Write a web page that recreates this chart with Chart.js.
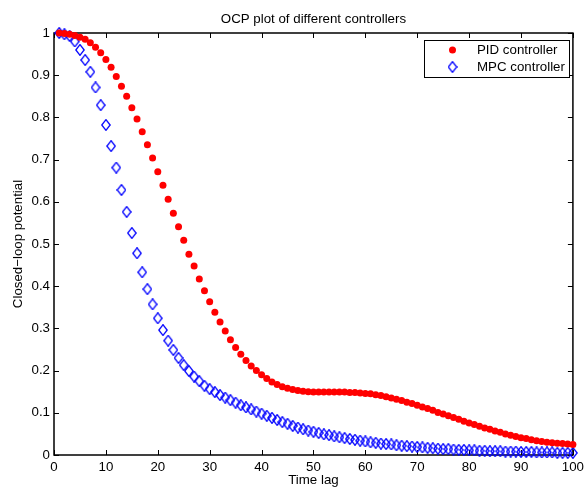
<!DOCTYPE html>
<html>
<head>
<meta charset="utf-8">
<script src="https://cdn.jsdelivr.net/npm/chart.js@4.4.0/dist/chart.umd.min.js"></script>
<style>
  html, body { margin: 0; padding: 0; background: #fff; }
</style>
</head>
<body>
<canvas id="ocp" width="588" height="488"></canvas>
<script>
// time lag steps 1..100
var timeLag = [
  1, 2, 3, 4, 5, 6, 7, 8, 9, 10, 11, 12, 13, 14, 15, 16, 17, 18, 19, 20,
  21, 22, 23, 24, 25, 26, 27, 28, 29, 30, 31, 32, 33, 34, 35, 36, 37, 38, 39, 40,
  41, 42, 43, 44, 45, 46, 47, 48, 49, 50, 51, 52, 53, 54, 55, 56, 57, 58, 59, 60,
  61, 62, 63, 64, 65, 66, 67, 68, 69, 70, 71, 72, 73, 74, 75, 76, 77, 78, 79, 80,
  81, 82, 83, 84, 85, 86, 87, 88, 89, 90, 91, 92, 93, 94, 95, 96, 97, 98, 99, 100
];

var pidOcp = [
  1.000, 0.999, 0.997, 0.994, 0.990, 0.985, 0.977, 0.966, 0.953, 0.937,
  0.919, 0.897, 0.874, 0.850, 0.823, 0.796, 0.766, 0.735, 0.704, 0.671,
  0.639, 0.606, 0.573, 0.541, 0.509, 0.476, 0.448, 0.417, 0.389, 0.363,
  0.338, 0.315, 0.294, 0.273, 0.255, 0.239, 0.224, 0.211, 0.200, 0.190,
  0.181, 0.173, 0.167, 0.162, 0.158, 0.155, 0.153, 0.151, 0.150, 0.149,
  0.149, 0.149, 0.149, 0.149, 0.149, 0.149, 0.148, 0.148, 0.147, 0.146,
  0.145, 0.143, 0.141, 0.138, 0.135, 0.132, 0.129, 0.125, 0.122, 0.118,
  0.114, 0.110, 0.106, 0.101, 0.097, 0.093, 0.089, 0.085, 0.080, 0.076,
  0.072, 0.068, 0.064, 0.061, 0.057, 0.054, 0.050, 0.047, 0.044, 0.041,
  0.039, 0.036, 0.034, 0.032, 0.030, 0.029, 0.028, 0.027, 0.026, 0.025
];

var mpcOcp = [
  1.000, 0.997, 0.993, 0.980, 0.960, 0.936, 0.908, 0.871, 0.829, 0.782,
  0.732, 0.681, 0.628, 0.576, 0.526, 0.478, 0.433, 0.393, 0.357, 0.324,
  0.296, 0.271, 0.249, 0.230, 0.213, 0.199, 0.186, 0.175, 0.164, 0.156,
  0.149, 0.142, 0.136, 0.130, 0.124, 0.118, 0.113, 0.108, 0.103, 0.098,
  0.093, 0.088, 0.083, 0.078, 0.074, 0.069, 0.065, 0.061, 0.058, 0.055,
  0.052, 0.049, 0.047, 0.044, 0.042, 0.040, 0.038, 0.036, 0.034, 0.032,
  0.030, 0.029, 0.027, 0.026, 0.025, 0.023, 0.022, 0.021, 0.020, 0.019,
  0.018, 0.017, 0.016, 0.015, 0.014, 0.014, 0.013, 0.012, 0.012, 0.011,
  0.011, 0.010, 0.010, 0.009, 0.009, 0.009, 0.008, 0.008, 0.008, 0.007,
  0.007, 0.007, 0.006, 0.006, 0.006, 0.006, 0.005, 0.005, 0.005, 0.005
];

var seriesNames = ['PID controller', 'MPC controller'];
var xTicks = [0, 10, 20, 30, 40, 50, 60, 70, 80, 90, 100];
var yTicks = [0, 0.1, 0.2, 0.3, 0.4, 0.5, 0.6, 0.7, 0.8, 0.9, 1];

var FONT = '"Liberation Sans", Arial, Helvetica, sans-serif';
var FONT_SIZE = 13.3;

function toPoints(xs, ys) {
    return xs.map(function (x, i) { return { x: x, y: ys[i] }; });
}

// open diamond marker, a bit taller than wide
var diamond = document.createElement('canvas');
diamond.width = 10;
diamond.height = 12;
(function () {
    var c = diamond.getContext('2d');
    c.strokeStyle = '#0000ff';
    c.lineWidth = 1.35;
    c.beginPath();
    c.moveTo(5, 0.7);
    c.lineTo(9.2, 6);
    c.lineTo(5, 11.3);
    c.lineTo(0.8, 6);
    c.closePath();
    c.stroke();
})();

// box around the axes with inward ticks on all four sides, plus title and legend
var frame = {
    id: 'frame',
    beforeDatasetsDraw: function (chart) {
        var ctx = chart.ctx, a = chart.chartArea;
        var sx = chart.scales.x, sy = chart.scales.y;
        var len = 5;
        ctx.save();
        ctx.strokeStyle = '#000';
        ctx.lineWidth = 1;
        ctx.beginPath();
        xTicks.forEach(function (t) {
            var px = Math.round(sx.getPixelForValue(t)) + 0.5;
            ctx.moveTo(px, a.bottom); ctx.lineTo(px, a.bottom - len);
            ctx.moveTo(px, a.top); ctx.lineTo(px, a.top + len);
        });
        yTicks.forEach(function (t) {
            var py = Math.round(sy.getPixelForValue(t)) + 0.5;
            ctx.moveTo(a.left, py); ctx.lineTo(a.left + len, py);
            ctx.moveTo(a.right, py); ctx.lineTo(a.right - len, py);
        });
        ctx.stroke();
        ctx.lineWidth = 1.5;
        ctx.strokeRect(a.left, a.top, a.right - a.left, a.bottom - a.top);
        ctx.restore();
    },
    afterDraw: function (chart) {
        var ctx = chart.ctx, a = chart.chartArea;
        ctx.save();
        ctx.fillStyle = '#000';
        ctx.font = FONT_SIZE + 'px ' + FONT;
        ctx.textAlign = 'center';
        ctx.textBaseline = 'middle';
        ctx.fillText('OCP plot of different controllers', (a.left + a.right) / 2, 19);

        var bx = 424.5, by = 40.5, bw = 145, bh = 37;
        ctx.fillStyle = '#fff';
        ctx.fillRect(bx, by, bw, bh);
        ctx.strokeStyle = '#000';
        ctx.lineWidth = 1;
        ctx.strokeRect(bx, by, bw, bh);

        ctx.textAlign = 'left';
        chart.data.datasets.forEach(function (ds, i) {
            var ly = 50 + i * 17;
            if (ds.pointStyle === 'circle') {
                ctx.fillStyle = ds.backgroundColor;
                ctx.beginPath();
                ctx.arc(452.5, ly, 3.5, 0, Math.PI * 2);
                ctx.fill();
            } else {
                ctx.drawImage(diamond, 452.5 - 5, ly - 6);
            }
            ctx.fillStyle = '#000';
            ctx.fillText(ds.label, 477, ly);
        });
        ctx.restore();
    }
};

var config = {
    type: 'scatter',
    data: {
        datasets: [{
            label: seriesNames[0],
            data: toPoints(timeLag, pidOcp),
            pointStyle: 'circle',
            pointRadius: 3.5,
            borderWidth: 0,
            backgroundColor: '#ff0000',
            borderColor: '#ff0000',
            clip: false
        }, {
            label: seriesNames[1],
            data: toPoints(timeLag, mpcOcp),
            pointStyle: diamond,
            pointRadius: 5,
            borderWidth: 0,
            backgroundColor: '#0000ff',
            borderColor: '#0000ff',
            clip: false
        }]
    },
    options: {
        responsive: false,
        animation: false,
        events: [],
        devicePixelRatio: 1,
        layout: {
            padding: { top: 33, right: 13, left: 0, bottom: 0 }
        },
        plugins: {
            legend: { display: false },
            title: { display: false },
            tooltip: { enabled: false }
        },
        scales: {
            x: {
                type: 'linear',
                min: 0,
                max: 100,
                afterFit: function (scale) { scale.height = 33; },
                afterBuildTicks: function (scale) {
                    scale.ticks = xTicks.map(function (v) { return { value: v }; });
                },
                grid: { drawOnChartArea: false, drawTicks: false },
                border: { display: false },
                ticks: {
                    color: '#000',
                    padding: 4,
                    maxRotation: 0,
                    font: { family: FONT, size: FONT_SIZE }
                },
                title: {
                    display: true,
                    text: 'Time lag',
                    color: '#000',
                    padding: { top: 0, bottom: 0 },
                    font: { family: FONT, size: FONT_SIZE }
                }
            },
            y: {
                type: 'linear',
                min: 0,
                max: 1,
                afterFit: function (scale) { scale.width = 54; },
                afterBuildTicks: function (scale) {
                    scale.ticks = yTicks.map(function (v) { return { value: v }; });
                },
                grid: { drawOnChartArea: false, drawTicks: false },
                border: { display: false },
                ticks: {
                    color: '#000',
                    padding: 4,
                    font: { family: FONT, size: FONT_SIZE },
                    callback: function (v) { return String(Number(v.toFixed(1))); }
                },
                title: {
                    display: true,
                    text: 'Closed\u2212loop potential',
                    color: '#000',
                    padding: { top: 10, bottom: 0 },
                    font: { family: FONT, size: FONT_SIZE }
                }
            }
        }
    },
    plugins: [frame]
};

window.onload = function () {
    var ctx = document.getElementById('ocp').getContext('2d');
    window.ocpChart = new Chart(ctx, config);
};
</script>
</body>
</html>
